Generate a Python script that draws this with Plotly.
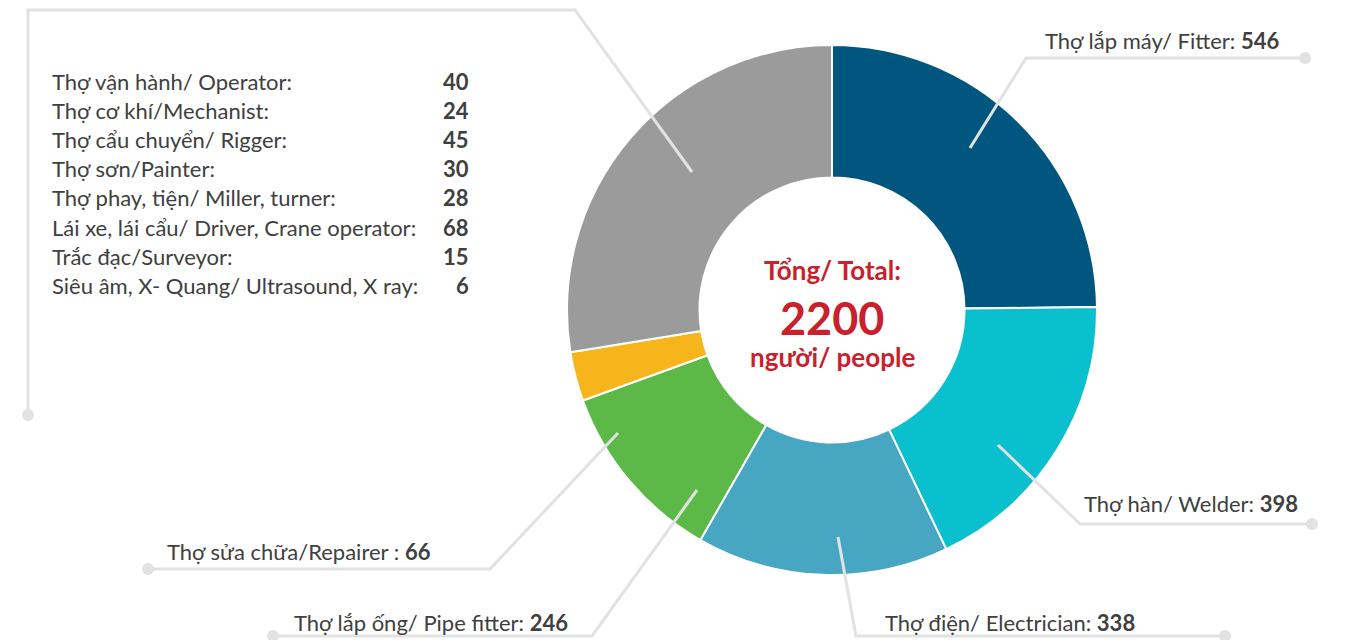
import plotly.graph_objects as go

# ---- data ----
categories = ["Thợ lắp máy/ Fitter", "Thợ hàn/ Welder", "Thợ điện/ Electrician",
              "Thợ lắp ống/ Pipe fitter", "Thợ sửa chữa/Repairer", "Khác/ Others"]
values = [546, 398, 338, 246, 66, 606]   # 'Others' = remainder of the 2200 total
colors = ["#00567E", "#0ABFCE", "#47A6C2", "#5CB947", "#F5B51B", "#9B9B9B"]
total = 2200

other_labels = ["Thợ vận hành/ Operator:", "Thợ cơ khí/Mechanist:", "Thợ cẩu chuyển/ Rigger:",
                "Thợ sơn/Painter:", "Thợ phay, tiện/ Miller, turner:",
                "Lái xe, lái cẩu/ Driver, Crane operator:", "Trắc đạc/Surveyor:",
                "Siêu âm, X- Quang/ Ultrasound, X ray:"]
other_values = [40, 24, 45, 30, 28, 68, 15, 6]

W, H = 1351, 640
FONT = "Lato"
TXT = "#404040"
LINE = "#E1E2E4"
RED = "#C9202B"


def px(x):
    return x / W


def py(y):
    return 1 - y / H


fig = go.Figure()
cx, cy, R = 832, 310, 265
fig.add_trace(go.Pie(
    labels=categories, values=values, sort=False, direction="clockwise", rotation=0,
    hole=0.5, textinfo="none", hoverinfo="label+value",
    marker=dict(colors=colors, line=dict(color="white", width=2)),
    domain=dict(x=[px(cx - R), px(cx + R)], y=[py(cy + R), py(cy - R)]),
    showlegend=False,
))

shapes = []
annotations = []


def leader(points, dot):
    path = "M " + " L ".join(f"{px(x)},{py(y)}" for x, y in points)
    shapes.append(dict(type="path", path=path, xref="paper", yref="paper",
                       line=dict(color=LINE, width=3), layer="above"))
    r = 6
    shapes.append(dict(type="circle", xref="paper", yref="paper",
                       x0=px(dot[0] - r), x1=px(dot[0] + r), y0=py(dot[1] + r), y1=py(dot[1] - r),
                       fillcolor=LINE, line=dict(width=0), layer="above"))


def label(text, x, y, anchor="left", size=22):
    annotations.append(dict(text=text, x=px(x), y=py(y), xref="paper", yref="paper",
                            xanchor=anchor, yanchor="middle", showarrow=False,
                            font=dict(family=FONT, size=size, color=TXT)))


def lbl(i, sep=": "):
    return f"{categories[i]}{sep}<b>{values[i]}</b>"


# Fitter
leader([(970, 148), (1026, 58), (1305, 58)], (1305, 58))
label(lbl(0), 1043, 40)
# Welder
leader([(998, 445), (1080, 524), (1312, 524)], (1312, 524))
label(lbl(1), 1082, 503)
# Electrician
leader([(838, 537), (856, 636), (1225, 636)], (1225, 636))
label(lbl(2), 883, 622)
# Pipe fitter
leader([(697, 490), (592, 636), (273, 636)], (273, 636))
label(lbl(3), 292, 622)
# Repairer
leader([(618, 433), (490, 569), (148, 569)], (148, 569))
label(lbl(4, " : "), 165, 551)
# Others
leader([(692, 172), (575, 10), (28, 10), (28, 415)], (28, 415))

for i, (t, v) in enumerate(zip(other_labels, other_values)):
    y = 81 + 29.2 * i
    label(t, 50, y)
    label(f"<b>{v}</b>", 471, y, anchor="right")

# centre text
for t, y, s in [("Tổng/ Total:", 270, 26), (str(total), 318, 45), ("người/ people", 357, 26)]:
    annotations.append(dict(text=f"<b>{t}</b>", x=px(cx), y=py(y), xref="paper", yref="paper",
                            xanchor="center", yanchor="middle", showarrow=False,
                            font=dict(family=FONT, size=s, color=RED)))

fig.update_layout(width=W, height=H, margin=dict(l=0, r=0, t=0, b=0),
                  paper_bgcolor="white", plot_bgcolor="white",
                  shapes=shapes, annotations=annotations)
fig.write_html("out.html", config={"displayModeBar": False},
               post_script="document.body.style.margin='0';document.body.style.overflow='hidden';")
